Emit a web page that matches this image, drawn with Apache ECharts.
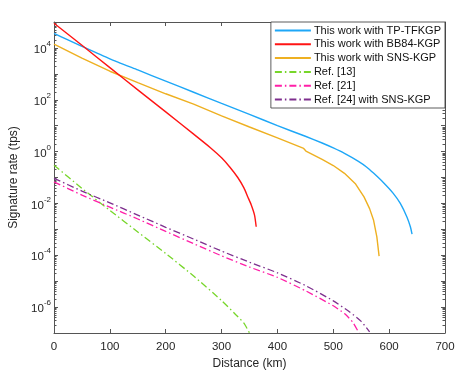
<!DOCTYPE html>
<html>
<head>
<meta charset="utf-8">
<script src="https://cdn.jsdelivr.net/npm/echarts@6/dist/echarts.min.js"></script>
<style>
  html, body { margin: 0; padding: 0; background: #fff; }
  #myChart { width: 468px; height: 378px; }
</style>
</head>
<body>
<div id="myChart"></div>
<script>
// distances (km) and signature rates (tps)
const tpDist = [0, 25, 50, 100, 150, 200, 250, 300, 350, 400, 450, 480, 500, 520, 545, 560, 572, 590, 607, 620, 632, 638, 641]
const tpRate = [3.63e4, 2.04e4, 1.15e4, 3.8e3, 1.41e3, 525, 195, 72, 27.5, 10, 3.9, 2.14, 1.38, 0.85, 0.42, 0.25, 0.148, 0.063, 0.025, 0.01, 2.95e-3, 1.26e-3, 6.5e-4]

const bbDist = [0, 50, 100, 150, 200, 250, 280, 300, 315, 329, 340, 347, 353, 359, 362]
const bbRate = [8.9e4, 1.26e4, 1.74e3, 240, 34, 4.7, 1.41, 0.575, 0.25, 0.1, 0.04, 0.0178, 8.9e-3, 3.55e-3, 1.26e-3]

const snsDist = [0, 25, 50, 100, 150, 200, 250, 300, 350, 400, 447, 451, 480, 500, 520, 540, 555, 565, 572, 578, 582]
const snsRate = [1.41e4, 7.6e3, 4.07e3, 1.26e3, 457, 170, 67.6, 24, 8.9, 3.39, 1.32, 1.05, 0.5, 0.29, 0.145, 0.056, 0.0178, 6.3e-3, 2.3e-3, 5.1e-4, 9.3e-5]

const ref13Dist = [0, 50, 100, 150, 200, 250, 300, 325, 340, 350]
const ref13Rate = [0.30, 0.038, 5.4e-3, 7.9e-4, 1.17e-4, 1.58e-5, 1.78e-6, 5.2e-7, 2.4e-7, 1e-7]

const ref21Dist = [0, 50, 100, 150, 200, 250, 300, 350, 400, 450, 500, 520, 535, 546]
const ref21Rate = [0.068, 0.021, 7.2e-3, 2.5e-3, 8.3e-4, 2.8e-4, 9.5e-5, 3.5e-5, 1.4e-5, 4.3e-6, 1.12e-6, 5.6e-7, 2.6e-7, 1e-7]

const ref24Dist = [0, 50, 100, 150, 200, 250, 300, 350, 400, 450, 500, 530, 550, 565]
const ref24Rate = [0.093, 0.030, 0.0105, 3.55e-3, 1.2e-3, 4.2e-4, 1.45e-4, 5.4e-5, 2.1e-5, 6.8e-6, 1.74e-6, 6.3e-7, 2.8e-7, 1.1e-7]

const seriesNames = ['This work with TP-TFKGP', 'This work with BB84-KGP', 'This work with SNS-KGP', 'Ref. [13]', 'Ref. [21]', 'Ref. [24] with SNS-KGP']
const xTicks = [0, 100, 200, 300, 400, 500, 600, 700]
const yLabelTicks = [1e-6, 1e-4, 1e-2, 1, 1e2, 1e4]

const yMin = 1e-7
const yMax = 1e5
// decade ticks and log minor ticks at 2..9 x 10^n
const majorTicks = []
const minorTicks = []
for (let e = -7; e <= 5; e++) {
  majorTicks.push(Math.pow(10, e))
  if (e < 5) {
    for (let m = 2; m < 10; m++) minorTicks.push(m * Math.pow(10, e))
  }
}

const axisColor = '#555'
const textColor = '#262626'
const font = 'Liberation Sans, Arial, sans-serif'
const dashDot = [7, 3, 1.5, 3]

function pairs(xs, ys) {
  return xs.map((x, i) => [x, ys[i]])
}

function yAxisCfg(position, withLabels, minor) {
  return {
    type: 'log',
    logBase: 10,
    min: yMin,
    max: yMax,
    position: position,
    axisLine: { show: !minor, lineStyle: { color: axisColor, width: 1 } },
    axisTick: {
      show: true,
      inside: true,
      length: minor ? 2.5 : 4,
      lineStyle: { color: axisColor },
      customValues: minor ? minorTicks : majorTicks
    },
    axisLabel: {
      show: withLabels,
      margin: 3,
      color: textColor,
      fontFamily: font,
      customValues: yLabelTicks,
      formatter: function(v) {
        const e = Math.round(Math.log10(v))
        return '{b|10}{s|' + e + '}'
      },
      rich: {
        b: { fontSize: 11.5, fontFamily: font, color: textColor, lineHeight: 16, verticalAlign: 'bottom' },
        s: { fontSize: 8, fontFamily: font, color: textColor, lineHeight: 16, verticalAlign: 'top' }
      }
    },
    name: withLabels ? 'Signature rate (tps)' : '',
    nameLocation: 'middle',
    nameGap: 34,
    nameTextStyle: { fontSize: 12, color: textColor, fontFamily: font },
    splitLine: { show: false },
    minorTick: { show: false }
  }
}

const chart = echarts.init(document.getElementById('myChart'))
chart.setOption({
  animation: false,
  backgroundColor: '#fff',
  grid: { left: 52, right: 23, top: 22, bottom: 45, containLabel: false },
  legend: {
    orient: 'vertical',
    right: 23,
    top: 22,
    padding: [3, 4, 3, 3],
    itemWidth: 36,
    itemHeight: 12,
    itemGap: 2.8,
    backgroundColor: '#fff',
    borderColor: '#333',
    borderWidth: 0.8,
    borderRadius: 0,
    itemStyle: { opacity: 0 },
    textStyle: { fontSize: 11, color: '#111', fontFamily: font, padding: [0, 0, 0, -2] },
    data: seriesNames
  },
  xAxis: [
    {
      type: 'value',
      min: 0,
      max: 700,
      interval: 100,
      position: 'bottom',
      axisLine: { lineStyle: { color: axisColor, width: 1 } },
      axisTick: { inside: true, length: 4, lineStyle: { color: axisColor } },
      axisLabel: {
        color: textColor, fontSize: 11.5, fontFamily: font, margin: 8,
        customValues: xTicks
      },
      splitLine: { show: false },
      name: 'Distance (km)',
      nameLocation: 'middle',
      nameGap: 24,
      nameTextStyle: { fontSize: 12, color: textColor, fontFamily: font }
    },
    {
      type: 'value',
      min: 0,
      max: 700,
      interval: 100,
      position: 'top',
      axisLine: { lineStyle: { color: axisColor, width: 1 } },
      axisTick: { inside: true, length: 4, lineStyle: { color: axisColor } },
      axisLabel: { show: false },
      splitLine: { show: false }
    }
  ],
  yAxis: [
    yAxisCfg('left', true, false),
    yAxisCfg('left', false, true),
    yAxisCfg('right', false, false),
    yAxisCfg('right', false, true)
  ],
  series: [
    {
      name: seriesNames[0], type: 'line', symbol: 'none', smooth: 0.2,
      lineStyle: { color: '#1ea7f7', width: 1.4 }, itemStyle: { color: '#1ea7f7' },
      data: pairs(tpDist, tpRate), z: 5
    },
    {
      name: seriesNames[1], type: 'line', symbol: 'none', smooth: 0.2,
      lineStyle: { color: '#ff1414', width: 1.4 }, itemStyle: { color: '#ff1414' },
      data: pairs(bbDist, bbRate), z: 6
    },
    {
      name: seriesNames[2], type: 'line', symbol: 'none',
      lineStyle: { color: '#eeb021', width: 1.4 }, itemStyle: { color: '#eeb021' },
      data: pairs(snsDist, snsRate), z: 4
    },
    {
      name: seriesNames[3], type: 'line', symbol: 'none', smooth: 0.2,
      lineStyle: { color: '#77d62a', width: 1.3, type: dashDot }, itemStyle: { color: '#77d62a' },
      data: pairs(ref13Dist, ref13Rate), z: 3
    },
    {
      name: seriesNames[4], type: 'line', symbol: 'none', smooth: 0.2,
      lineStyle: { color: '#ff1fa8', width: 1.3, type: dashDot }, itemStyle: { color: '#ff1fa8' },
      data: pairs(ref21Dist, ref21Rate), z: 3
    },
    {
      name: seriesNames[5], type: 'line', symbol: 'none', smooth: 0.2,
      lineStyle: { color: '#7e2f8e', width: 1.3, type: dashDot }, itemStyle: { color: '#7e2f8e' },
      data: pairs(ref24Dist, ref24Rate), z: 3
    }
  ]
})
</script>
</body>
</html>
